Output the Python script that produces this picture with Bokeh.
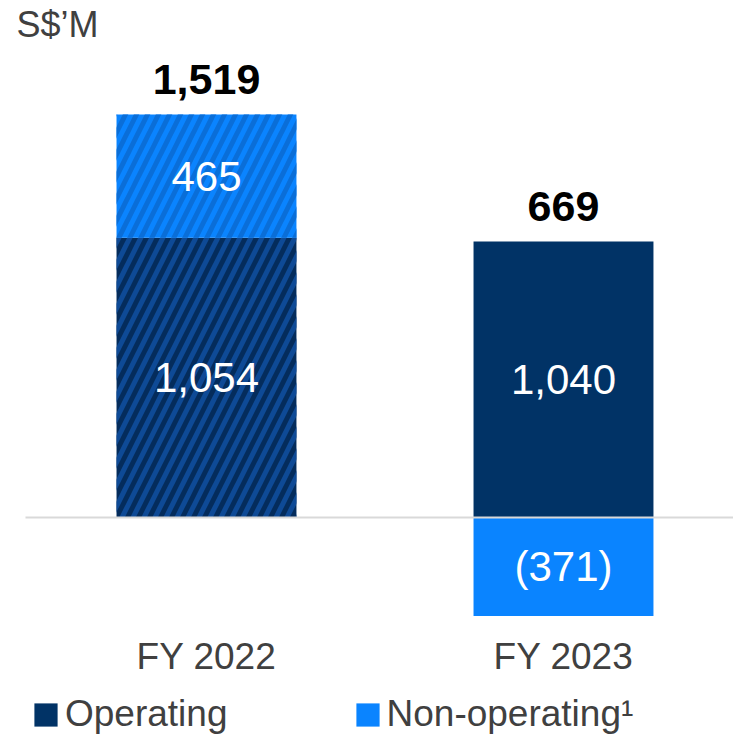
from bokeh.plotting import figure
from bokeh.models import ColumnDataSource, Range1d, Legend, LegendItem, Label
from bokeh.core.properties import value
from bokeh.embed import file_html
from bokeh.resources import INLINE

# ---- data ----
categories = ["FY 2022", "FY 2023"]
operating = [1054, 1040]
non_operating = [465, -371]
totals = [1519, 669]
hatched = [True, False]

# ---- styles ----
FONT = "Liberation Sans"
GREY_TXT = "#404040"
OP_SOLID = "#013366"
OP_HATCH_BG = "#042C5C"
OP_HATCH_LINE = "#0E4A96"
NON_SOLID = "#0A84FF"
NON_HATCH_LINE = "#0A6ED8"

xs = list(range(len(categories)))

def fmt(v):
    return f"({abs(v):,})" if v < 0 else f"{v:,}"

op_bottom = [0 for _ in operating]
op_top = list(operating)
non_bottom = [o if n >= 0 else 0 for o, n in zip(operating, non_operating)]
non_top = [o + n if n >= 0 else n for o, n in zip(operating, non_operating)]
pos_top = [max(o, 0) + max(n, 0) for o, n in zip(operating, non_operating)]

op_src = ColumnDataSource(dict(
    x=xs, bottom=op_bottom, top=op_top,
    mid=[(b + t) / 2 for b, t in zip(op_bottom, op_top)],
    label=[fmt(v) for v in operating],
    fill=[OP_HATCH_BG if h else OP_SOLID for h in hatched],
    hcol=[OP_HATCH_LINE if h else OP_SOLID for h in hatched],
    hpat=["/" if h else " " for h in hatched],
))
non_src = ColumnDataSource(dict(
    x=xs, bottom=non_bottom, top=non_top,
    mid=[(b + t) / 2 for b, t in zip(non_bottom, non_top)],
    label=[fmt(v) for v in non_operating],
    fill=[NON_SOLID for _ in hatched],
    hcol=[NON_HATCH_LINE if h else NON_SOLID for h in hatched],
    hpat=["/" if h else " " for h in hatched],
))
tot_src = ColumnDataSource(dict(x=xs, y=pos_top, label=[fmt(v) for v in totals]))
cat_src = ColumnDataSource(dict(x=xs, y=[0 for _ in xs], label=categories))

W, H = 733, 735
p = figure(width=W, height=H, output_backend="svg", toolbar_location=None,
           x_range=Range1d(-0.5770, 1.4762), y_range=Range1d(-821.7, 1948.7),
           min_border=0, outline_line_color=None)
p.axis.visible = False
p.grid.visible = False
p.background_fill_color = "white"
p.border_fill_color = "white"

BW = 0.504
r_op = p.vbar(x="x", bottom="bottom", top="top", width=BW, source=op_src,
              fill_color="fill", line_color=None, hatch_pattern="hpat",
              hatch_color="hcol", hatch_scale=22, hatch_weight=5)
r_non = p.vbar(x="x", bottom="bottom", top="top", width=BW, source=non_src,
               fill_color="fill", line_color=None, hatch_pattern="hpat",
               hatch_color="hcol", hatch_scale=22, hatch_weight=5)

# baseline
p.segment(x0=[-0.507], y0=[0], x1=[1.4762], y1=[0], line_color="#D9D9D9", line_width=2)

# segment labels
for src in (op_src, non_src):
    p.text(x="x", y="mid", text="label", source=src, text_align="center",
           text_baseline="middle", text_color="white",
           text_font=value(FONT), text_font_size="42px")

# totals
p.text(x="x", y="y", text="label", source=tot_src, text_align="center",
       text_baseline="middle", y_offset=-35, text_color="black",
       text_font=value(FONT), text_font_size="43px", text_font_style="bold")

# category labels
p.text(x="x", y="y", text="label", source=cat_src, text_align="center",
       text_baseline="middle", y_offset=139, text_color=GREY_TXT,
       text_font=value(FONT), text_font_size="37px")

# unit label
p.add_layout(Label(x=16, y=H - 24, x_units="screen", y_units="screen", text="S$\u2019M",
                   text_font=FONT, text_font_size="36px", text_color=GREY_TXT,
                   text_baseline="middle"))

legend = Legend(items=[
    LegendItem(label="Operating", renderers=[r_op], index=1),
    LegendItem(label="Non-operating\u00b9", renderers=[r_non], index=1),
], orientation="horizontal", location=(31, 0),
    glyph_width=29, glyph_height=29, label_height=29, label_standoff=5, spacing=125,
    padding=0, margin=0, background_fill_alpha=0, border_line_alpha=0,
    label_text_font=FONT, label_text_font_size="37px", label_text_color=GREY_TXT)
p.add_layout(legend)

open("out.html", "w").write(file_html(p, INLINE))
